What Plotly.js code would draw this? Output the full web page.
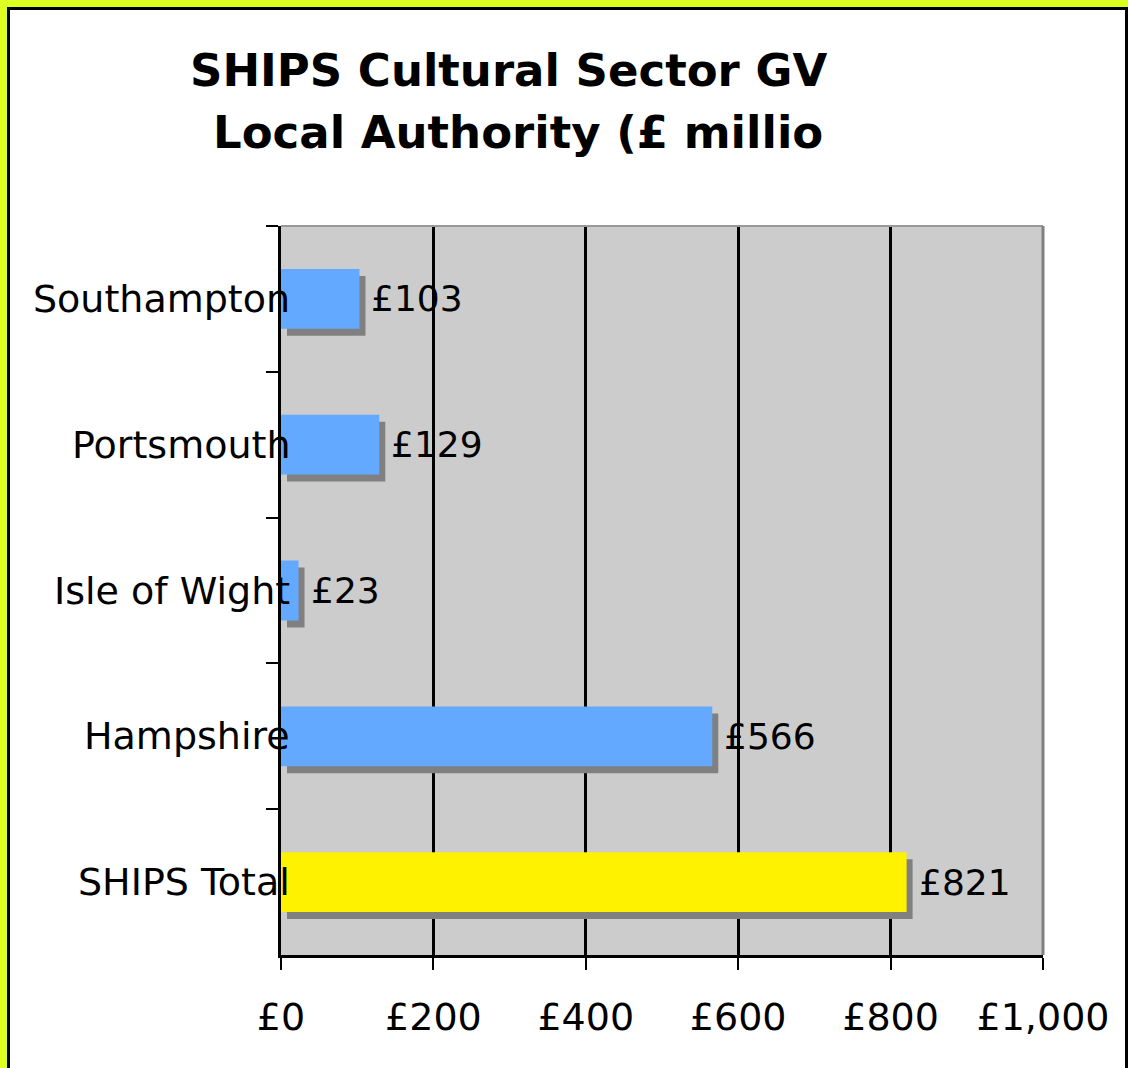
<!DOCTYPE html>
<html><head><meta charset="utf-8">
<script src="https://cdn.plot.ly/plotly-3.0.1.min.js"></script>
<style>
html,body{margin:0;padding:0;width:1128px;height:1068px;overflow:hidden;background:#DDFF22;}
#frame{position:absolute;left:7px;top:7px;width:1121px;height:1100px;box-sizing:border-box;border:3px solid #000;background:#fff;}
#chart{position:absolute;left:10px;top:10px;width:1115px;height:1058px;}
</style></head>
<body>
<div id="frame"></div>
<div id="chart"></div>
<script>
// Data (top to bottom as shown)
const categories = ["Southampton", "Portsmouth", "Isle of Wight", "Hampshire", "SHIPS Total"];
const gvaValues = [103, 129, 23, 566, 821];
const barColors = ["#63A9FF", "#63A9FF", "#63A9FF", "#63A9FF", "#FFF200"];
const xTickVals = [0, 200, 400, 600, 800, 1000];
const xTickText = ["£0", "£200", "£400", "£600", "£800", "£1,000"];
const titleLines = ["SHIPS Cultural Sector GV", "Local Authority (£ millio"];

const W = 1115, H = 1058;
const margin = {l: 271, r: 82, t: 216, b: 113};
const xMax = 1000;
const plotW = W - margin.l - margin.r;
const plotH = H - margin.t - margin.b;
const unitPx = plotW / xMax;
const slotPx = plotH / categories.length;
const barW = 0.41;
const shadowDx = 6 / unitPx;        // 6 px to the right
const shadowDy = 7 / slotPx;        // 7 px down (axis reversed -> positive offset)

const shadow = {
  type: 'bar', orientation: 'h', y: categories, x: gvaValues,
  base: categories.map(() => shadowDx),
  width: barW, offset: -barW / 2 + shadowDy,
  marker: {color: '#808080', line: {width: 0}},
  hoverinfo: 'skip', showlegend: false
};
const bars = {
  type: 'bar', orientation: 'h', y: categories, x: gvaValues,
  width: barW, offset: -barW / 2,
  marker: {color: barColors, line: {width: 0}},
  showlegend: false
};

const annotations = [];
categories.forEach((c, i) => {
  annotations.push({
    xref: 'paper', yref: 'y', x: 0, y: c, xanchor: 'right', yanchor: 'middle',
    xshift: 11, text: c, showarrow: false,
    font: {family: 'DejaVu Sans, Verdana, sans-serif', size: 38, color: '#000'}
  });
  annotations.push({
    xref: 'x', yref: 'y', x: gvaValues[i], y: c, xanchor: 'left', yanchor: 'middle',
    xshift: 10, text: '£' + gvaValues[i], showarrow: false,
    font: {family: 'DejaVu Sans, Verdana, sans-serif', size: 36, color: '#000'}
  });
});
const titleX = [178, 201];
const titleY = [156, 94];
titleLines.forEach((t, i) => {
  annotations.push({
    xref: 'paper', yref: 'paper', x: (titleX[i] - margin.l) / plotW, y: 1 + titleY[i] / plotH,
    xanchor: 'left', yanchor: 'middle', text: '<b>' + t + '</b>', showarrow: false,
    font: {family: 'DejaVu Sans, sans-serif', size: 45, color: '#000'}
  });
});

const layout = {
  width: W, height: H, margin: margin,
  paper_bgcolor: 'rgba(0,0,0,0)', plot_bgcolor: '#CCCCCC',
  barmode: 'overlay', showlegend: false,
  xaxis: {
    range: [0, xMax], tickvals: xTickVals, ticktext: xTickText,
    showgrid: true, gridcolor: '#000', gridwidth: 3, zeroline: false,
    showline: true, linecolor: '#000', linewidth: 3,
    ticks: 'outside', ticklen: 12, tickwidth: 2, tickcolor: '#000',
    ticklabelstandoff: 14,
    tickfont: {family: 'DejaVu Sans, Verdana, sans-serif', size: 38, color: '#000'},
    fixedrange: true
  },
  yaxis: {
    type: 'category', categoryorder: 'array', categoryarray: categories,
    autorange: 'reversed', showticklabels: false,
    tickson: 'boundaries', ticks: 'outside', ticklen: 12, tickwidth: 2, tickcolor: '#000',
    showgrid: false, zeroline: false,
    showline: true, linecolor: '#000', linewidth: 3,
    fixedrange: true
  },
  shapes: [
    {type: 'line', xref: 'paper', yref: 'paper', x0: 0, x1: 1, y0: 1, y1: 1, line: {color: '#999999', width: 2}},
    {type: 'line', xref: 'paper', yref: 'paper', x0: 1, x1: 1, y0: 0, y1: 1, line: {color: '#808080', width: 3}}
  ],
  annotations: annotations
};

Plotly.newPlot('chart', [shadow, bars], layout, {displayModeBar: false, staticPlot: true});
</script>
</body></html>
